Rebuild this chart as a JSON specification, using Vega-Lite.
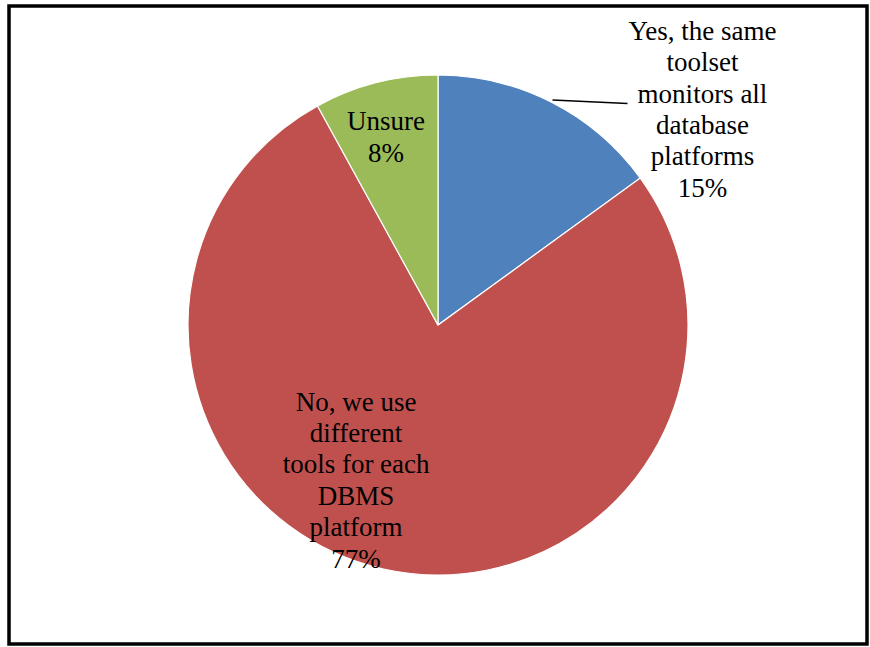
{
  "$schema": "https://vega.github.io/schema/vega-lite/v6.json",
  "autosize": "none",
  "width": 858,
  "height": 638,
  "padding": {"left": 9, "top": 6, "right": 3, "bottom": 3},
  "background": "white",
  "config": {"view": {"stroke": "black", "strokeWidth": 3.5}},
  "data": {
    "values": [
      {"idx": 1, "answer": "Yes", "value": 15, "label": ["Yes, the same", "toolset", "monitors all", "database", "platforms", "15%"]},
      {"idx": 2, "answer": "No", "value": 77, "label": ["No, we use", "different", "tools for each", "DBMS", "platform", "77%"]},
      {"idx": 3, "answer": "Unsure", "value": 8, "label": ["Unsure", "8%"]}
    ]
  },
  "encoding": {
    "theta": {"field": "value", "type": "quantitative", "stack": true},
    "order": {"field": "idx", "type": "quantitative"}
  },
  "layer": [
    {
      "mark": {"type": "arc", "radius": 250, "stroke": "white", "strokeWidth": 1.2},
      "encoding": {
        "color": {
          "field": "answer",
          "type": "nominal",
          "scale": {"domain": ["Yes", "No", "Unsure"], "range": ["#4F81BD", "#C0504D", "#9BBB59"]},
          "legend": null
        }
      }
    },
    {
      "mark": {"type": "text", "radius": 250, "dx": 151, "dy": -70.5, "font": "Liberation Serif", "fontSize": 27, "lineHeight": 31.4, "align": "center", "baseline": "middle", "color": "black"},
      "encoding": {
        "text": {"condition": {"test": "datum.answer === 'Yes'", "field": "label"}, "value": ""}
      }
    },
    {
      "mark": {"type": "text", "radius": 160, "dx": -47, "dy": -78.5, "font": "Liberation Serif", "fontSize": 27, "lineHeight": 31.4, "align": "center", "baseline": "middle", "color": "black"},
      "encoding": {
        "text": {"condition": {"test": "datum.answer === 'No'", "field": "label"}, "value": ""}
      }
    },
    {
      "mark": {"type": "text", "radius": 193, "dx": -4, "dy": -15.7, "font": "Liberation Serif", "fontSize": 27, "lineHeight": 31.4, "align": "center", "baseline": "middle", "color": "black"},
      "encoding": {
        "text": {"condition": {"test": "datum.answer === 'Unsure'", "field": "label"}, "value": ""}
      }
    },
    {
      "data": {"values": [{"answer": "Yes"}]},
      "mark": {"type": "rule", "color": "black", "strokeWidth": 1.6},
      "encoding": {
        "theta": null,
        "order": null,
        "x": {"datum": 0.458, "type": "quantitative", "scale": {"domain": [-1.716, 1.716], "nice": false, "zero": false}, "axis": null},
        "x2": {"datum": 0.758},
        "y": {"datum": 0.9, "type": "quantitative", "scale": {"domain": [-1.276, 1.276], "nice": false, "zero": false}, "axis": null},
        "y2": {"datum": 0.886}
      }
    }
  ]
}
